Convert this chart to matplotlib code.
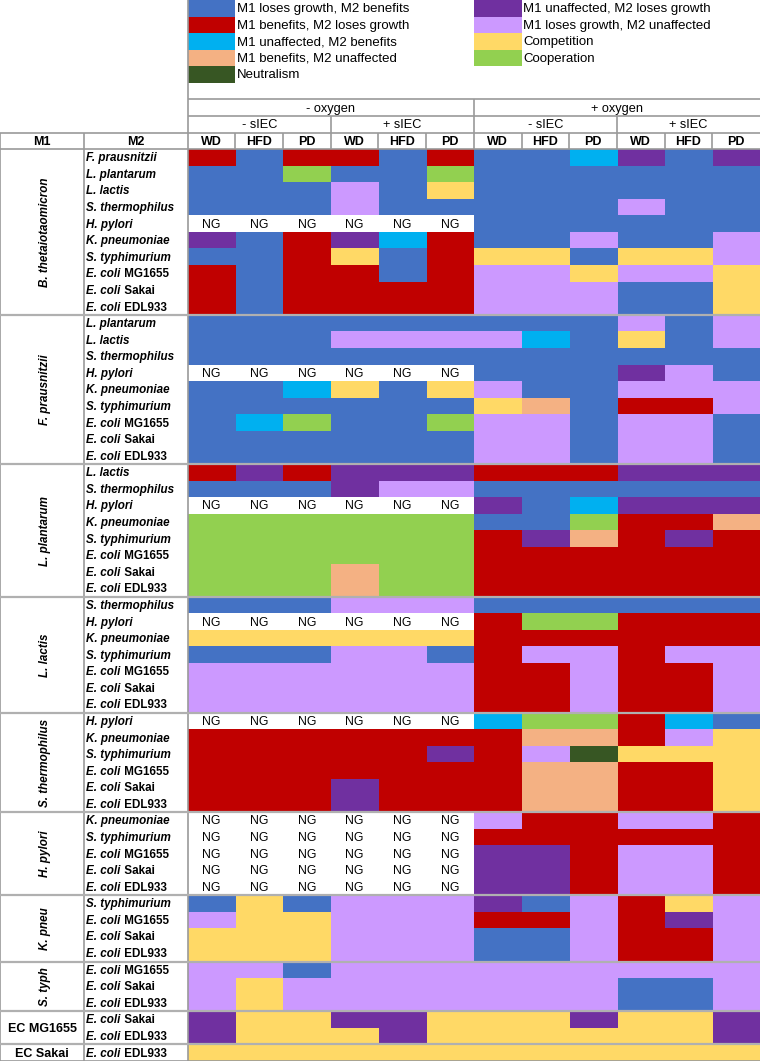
import numpy as np
import matplotlib.pyplot as plt
from matplotlib.colors import ListedColormap
from matplotlib.patches import Rectangle

# interaction categories (legend order) and their colours
CATEGORIES = [
    "M1 loses growth, M2 benefits",
    "M1 benefits, M2 loses growth",
    "M1 unaffected, M2 benefits",
    "M1 benefits, M2 unaffected",
    "Neutralism",
    "M1 unaffected, M2 loses growth",
    "M1 loses growth, M2 unaffected",
    "Competition",
    "Cooperation",
]
CODES = "BRCSNPLYG"
COLORS = ["#4472C4", "#C00000", "#00B0F0", "#F4B183", "#375623",
          "#7030A0", "#CC99FF", "#FFD966", "#92D050"]

OXYGEN = ["- oxygen", "+ oxygen"]
SIEC = ["- sIEC", "+ sIEC"]
DIETS = ["WD", "HFD", "PD"]

M1_NAMES = ["B. thetaiotaomicron", "F. prausnitzii", "L. plantarum", "L. lactis",
            "S. thermophilus", "H. pylori", "K. pneu", "S. typh", "EC MG1655", "EC Sakai"]

M2_ALL = ["F. prausnitzii", "L. plantarum", "L. lactis", "S. thermophilus", "H. pylori",
          "K. pneumoniae", "S. typhimurium", "E. coli MG1655", "E. coli Sakai", "E. coli EDL933"]

# one string per M2 row, 12 conditions, X = no growth (NG)
B_THETA = ["RBRRBRBBCPBP", "BBGBBGBBBBBB", "BBBLBYBBBBBB", "BBBLBBBBBLBB", "XXXXXXBBBBBB",
           "PBRPCRBBLBBL", "BBRYBRYYBYYL", "RBRRBRLLYLLY", "RBRRRRLLLBBY", "RBRRRRLLLBBY"]
F_PRAUS = ["BBBBBBBBBLBL", "BBBLLLLCBYBL", "BBBBBBBBBBBB", "XXXXXXBBBPLB", "BBCYBYLBBLLL",
           "BBBBBBYSBRRL", "BCGBBGLLBLLB", "BBBBBBLLBLLB", "BBBBBBLLBLLB"]
L_PLANT = ["RPRPPPRRRPPP", "BBBPLLBBBBBB", "XXXXXXPBCPPP", "GGGGGGBBGRRS",
           "GGGGGGRPSRPR", "GGGGGGRRRRRR", "GGGSGGRRRRRR", "GGGSGGRRRRRR"]
L_LACTIS = ["BBBLLLBBBBBB", "XXXXXXRGGRRR", "YYYYYYRRRRRR", "BBBLLBRLLRLL",
            "LLLLLLRRLRRL", "LLLLLLRRLRRL", "LLLLLLRRLRRL"]
S_THERMO = ["XXXXXXCGGRCB", "RRRRRRRSSRLY", "RRRRRPRLNYYY", "RRRRRRRSSRRY",
            "RRRPRRRSSRRY", "RRRPRRRSSRRY"]
H_PYLORI = ["XXXXXXLRRLLR", "XXXXXXRRRRRR", "XXXXXXPPRLLR", "XXXXXXPPRLLR", "XXXXXXPPRLLR"]
K_PNEU = ["BYBLLLPBLRYL", "LYYLLLRRLRPL", "YYYLLLBBLRRL", "YYYLLLBBLRRL"]
S_TYPH = ["LLBLLLLLLLLL", "LYLLLLLLLBBL", "LYLLLLLLLBBL"]
EC_MG = ["PYYPPYYYPYYP", "PYYYPYYYYYYP"]
EC_SAKAI = ["YYYYYYYYYYYY"]

GROUPS = [B_THETA, F_PRAUS, L_PLANT, L_LACTIS, S_THERMO, H_PYLORI, K_PNEU, S_TYPH, EC_MG, EC_SAKAI]

FONT = ["Liberation Sans", "DejaVu Sans"]
LINE = "#9a9a9a"


def px(x):
    # figure pixel -> data column units (data columns are 47.7 px wide, start at 187.7 px)
    return (x - 187.7) / 47.69


def main() -> None:
    plt.rcParams["font.family"] = FONT
    fig = plt.figure(figsize=(7.6, 10.61), dpi=100)
    ax = fig.add_axes([0, 0, 1, 1])
    x0, xm = px(0), px(84.3)
    n_head = 9
    n_rows = sum(len(g) for g in GROUPS)
    ax.set_xlim(x0, 12)
    ax.set_ylim(n_head + n_rows, 0)
    ax.axis("off")

    # data grid
    rows = [r for g in GROUPS for r in g]
    grid = np.array([[CODES.index(c) if c != "X" else -1 for c in r] for r in rows])
    grid = np.ma.masked_less(grid, 0)
    cmap = ListedColormap(COLORS)
    cmap.set_bad("white")
    ax.imshow(grid, cmap=cmap, vmin=-0.5, vmax=len(COLORS) - 0.5, aspect="auto",
              interpolation="nearest", extent=(0, 12, n_head + n_rows, n_head))

    for i, row in enumerate(rows):
        for j, c in enumerate(row):
            if c == "X":
                ax.text(j + 0.5, n_head + i + 0.55, "NG", ha="center", va="center", fontsize=8.8)

    # legend block
    for i, (name, color) in enumerate(zip(CATEGORIES, COLORS)):
        col = 0 if i < 5 else 6
        r = i if i < 5 else i - 5
        ax.add_patch(Rectangle((col, r), 1, 1, color=color, lw=0))
        ax.text(col + 1.03, r + 0.55, name, ha="left", va="center", fontsize=9.5)

    # header
    for k, ox in enumerate(OXYGEN):
        ax.text(6 * k + 3, 6.55, ox, ha="center", va="center", fontsize=9.2)
        for s, si in enumerate(SIEC):
            ax.text(6 * k + 3 * s + 1.5, 7.55, si, ha="center", va="center", fontsize=9.2)
            for d, diet in enumerate(DIETS):
                ax.text(6 * k + 3 * s + d + 0.5, 8.55, diet, ha="center", va="center",
                        fontsize=9, fontweight="bold")
    ax.text((x0 + xm) / 2, 8.55, "M1", ha="center", va="center", fontsize=9, fontweight="bold")
    ax.text((xm + 0) / 2, 8.55, "M2", ha="center", va="center", fontsize=9, fontweight="bold")

    # row labels
    y = n_head
    for name, g in zip(M1_NAMES, GROUPS):
        n = len(g)
        if name.startswith("EC"):
            ax.text((x0 + xm) / 2, y + n / 2 + 0.05, name, ha="center", va="center",
                    fontsize=9, fontweight="bold")
        else:
            ax.text((x0 + xm) / 2 + 0.05, y + n / 2, name, ha="center", va="center",
                    rotation=90, fontsize=8.4, fontweight="bold", fontstyle="italic")
        for i, m2 in enumerate(M2_ALL[-n:]):
            yy = y + i + 0.55
            if m2.startswith("E. coli"):
                t = ax.text(xm + px(189.7), yy, "E. coli", ha="left", va="center",
                            fontsize=8.4, fontweight="bold", fontstyle="italic")
                ax.annotate(" " + m2.split(" ", 2)[2], xy=(1, 0), xycoords=t,
                            ha="left", va="bottom", fontsize=8.4, fontweight="bold")
            else:
                ax.text(xm + px(189.7), yy, m2, ha="left", va="center",
                        fontsize=8.4, fontweight="bold", fontstyle="italic")
        y += n

    # lines
    kw = dict(color=LINE, lw=1.2, zorder=5)
    ax.vlines(0, 0, n_head + n_rows, **kw)
    ax.vlines([xm, x0 + 0.01], 8, n_head + n_rows, **kw)
    ax.hlines([6, 7], 0, 12, **kw)
    ax.hlines([8, 9], x0, 12, **kw)
    ax.vlines(6, 6, 9, **kw)
    ax.vlines([3, 9], 7, 9, **kw)
    ax.vlines([1, 2, 4, 5, 7, 8, 10, 11], 8, 9, **kw)
    bounds = np.cumsum([len(g) for g in GROUPS])[:-1] + n_head
    ax.hlines(bounds, x0, 12, color="#b0b0b0", lw=1.6, zorder=5)
    ax.hlines(n_head + n_rows - 0.02, x0, 12, **kw)

    fig.savefig("out.png", dpi=100)
    plt.close(fig)


if __name__ == "__main__":
    main()
